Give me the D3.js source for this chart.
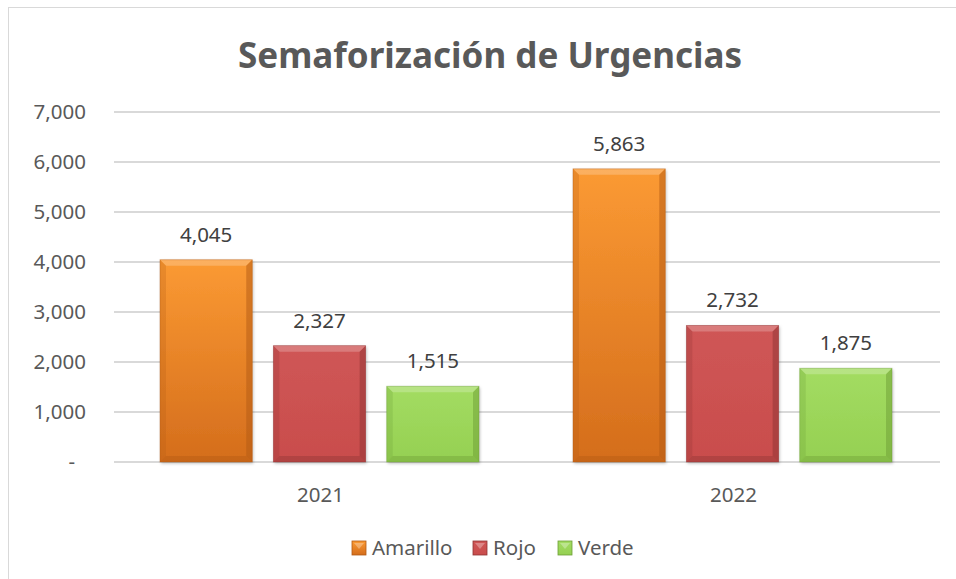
<!DOCTYPE html>
<html>
<head>
<meta charset="utf-8">
<script src="https://cdn.jsdelivr.net/npm/d3@7"></script>
<style>
  body { margin: 0; background: #fff; }
  text { font-family: "Noto Sans", "Open Sans", sans-serif; }
</style>
</head>
<body>
<svg id="chart" width="956" height="579"></svg>
<script>
// data
const years = ["2021", "2022"];
const series = ["Amarillo", "Rojo", "Verde"];
const amarillo = [4045, 5863];
const rojo = [2327, 2732];
const verde = [1515, 1875];
const yTicks = [0, 1000, 2000, 3000, 4000, 5000, 6000, 7000];

const colors = {
    Amarillo: ["#fb9a33", "#d46d1c", "#b25a14"],
    Rojo: ["#cf5656", "#c94d4c", "#8e3434"],
    Verde: ["#a3dc62", "#95d052", "#6d9e36"]
};

const table = years.map((yr, i) => ({
    year: yr,
    values: [
        { key: "Amarillo", value: amarillo[i] },
        { key: "Rojo", value: rojo[i] },
        { key: "Verde", value: verde[i] }
    ]
}));

const svg = d3.select("#chart");
const margin = { left: 114, right: 16, top: 112, bottom: 117 };
const width = 956 - margin.left - margin.right;
const height = 579 - margin.top - margin.bottom;
const fontSize = "20.5px";

// chart frame
svg.append("rect")
    .attr("x", 8.5).attr("y", 7.5)
    .attr("width", 960).attr("height", 600)
    .attr("fill", "#fff")
    .attr("stroke", "#d9d9d9");

const defs = svg.append("defs");
series.forEach(s => {
    const g = defs.append("linearGradient")
        .attr("id", "grad-" + s)
        .attr("x1", 0).attr("y1", 0).attr("x2", 0).attr("y2", 1);
    g.append("stop").attr("offset", "0%").attr("stop-color", colors[s][0]);
    g.append("stop").attr("offset", "100%").attr("stop-color", colors[s][1]);
});
const f = defs.append("filter").attr("id", "shadow")
    .attr("x", "-10%").attr("y", "-10%").attr("width", "130%").attr("height", "130%");
f.append("feDropShadow").attr("dx", 1).attr("dy", 1.5).attr("stdDeviation", 1.5)
    .attr("flood-color", "#000").attr("flood-opacity", 0.25);

// title
svg.append("text")
    .attr("x", 490).attr("y", 68)
    .attr("text-anchor", "middle")
    .attr("textLength", 504)
    .attr("lengthAdjust", "spacingAndGlyphs")
    .style("font-size", "36px")
    .style("font-weight", "bold")
    .style("fill", "#595959")
    .text("Semaforización de Urgencias");

const g = svg.append("g")
    .attr("transform", "translate(" + margin.left + "," + margin.top + ")");

const x0 = d3.scaleBand()
    .domain(years)
    .range([0, width])
    .paddingInner(0)
    .paddingOuter(0);

const x1 = d3.scaleBand()
    .domain(series)
    .range([46, 365])
    .paddingInner(0.186);

const y = d3.scaleLinear()
    .domain([0, 7000])
    .range([height, 0]);

// grid
g.append("g")
    .selectAll("line")
    .data(yTicks)
    .join("line")
        .attr("x1", 0).attr("x2", width)
        .attr("y1", d => y(d)).attr("y2", d => y(d))
        .attr("stroke", "#d9d9d9")
        .attr("stroke-width", 2);

// y axis labels
const fmt = d3.format(",");
g.append("g")
    .selectAll("text")
    .data(yTicks)
    .join("text")
        .attr("x", d => d === 0 ? -39 : -28)
        .attr("y", d => y(d))
        .attr("dy", "0.35em")
        .attr("text-anchor", "end")
        .style("font-size", fontSize)
        .style("fill", "#595959")
        .text(d => d === 0 ? "-" : fmt(d));

// x axis labels
g.append("g")
    .selectAll("text")
    .data(years)
    .join("text")
        .attr("x", d => x0(d) + x0.bandwidth() / 2)
        .attr("y", height + 40)
        .attr("text-anchor", "middle")
        .style("font-size", fontSize)
        .style("fill", "#595959")
        .text(d => d);

// bars
const groups = g.append("g")
    .selectAll("g")
    .data(table)
    .join("g")
        .attr("transform", d => "translate(" + x0(d.year) + ",0)");

const bars = groups.selectAll("g.bar")
    .data(d => d.values)
    .join("g")
        .attr("class", "bar");

const bev = 6;
bars.each(function(d) {
    const sel = d3.select(this);
    const bx = x1(d.key), bw = x1.bandwidth();
    const by = y(d.value), bh = height - y(d.value);
    sel.append("rect")
        .attr("x", bx).attr("y", by)
        .attr("width", bw).attr("height", bh)
        .attr("fill", "url(#grad-" + d.key + ")")
        .attr("filter", "url(#shadow)");
    // bevel: top light, sides dark
    sel.append("path")
        .attr("d", `M${bx},${by}L${bx + bw},${by}L${bx + bw - bev},${by + bev}L${bx + bev},${by + bev}Z`)
        .attr("fill", "#fff").attr("opacity", 0.22);
    sel.append("path")
        .attr("d", `M${bx},${by}L${bx + bev},${by + bev}L${bx + bev},${by + bh - bev}L${bx},${by + bh}Z`)
        .attr("fill", colors[d.key][2]).attr("opacity", 0.25);
    sel.append("path")
        .attr("d", `M${bx + bw},${by}L${bx + bw - bev},${by + bev}L${bx + bw - bev},${by + bh - bev}L${bx + bw},${by + bh}Z`)
        .attr("fill", colors[d.key][2]).attr("opacity", 0.5);
    sel.append("path")
        .attr("d", `M${bx},${by + bh}L${bx + bev},${by + bh - bev}L${bx + bw - bev},${by + bh - bev}L${bx + bw},${by + bh}Z`)
        .attr("fill", colors[d.key][2]).attr("opacity", 0.4);
    sel.append("rect")
        .attr("x", bx).attr("y", by)
        .attr("width", bw).attr("height", bh)
        .attr("fill", "none")
        .attr("stroke", colors[d.key][2])
        .attr("stroke-opacity", 0.5)
        .attr("stroke-width", 0.8);
});

// value labels
bars.append("text")
    .attr("x", d => x1(d.key) + x1.bandwidth() / 2)
    .attr("y", d => y(d.value) - 18)
    .attr("text-anchor", "middle")
    .style("font-size", fontSize)
    .style("fill", "#404040")
    .text(d => fmt(d.value));

// legend
const legendX = [352, 473, 558];
const legend = svg.append("g")
    .selectAll("g")
    .data(series)
    .join("g")
        .attr("transform", (d, i) => "translate(" + legendX[i] + ",541)");
legend.append("rect")
    .attr("width", 14).attr("height", 14)
    .attr("fill", d => "url(#grad-" + d + ")")
    .attr("stroke", d => colors[d][2])
    .attr("stroke-width", 0.8);
legend.append("path")
    .attr("d", "M2,2L12,2L7,8Z")
    .attr("fill", "#fff").attr("opacity", 0.3);
legend.append("text")
    .attr("x", 20).attr("y", 14)
    .style("font-size", fontSize)
    .style("fill", "#595959")
    .text(d => d);
</script>
</body>
</html>
